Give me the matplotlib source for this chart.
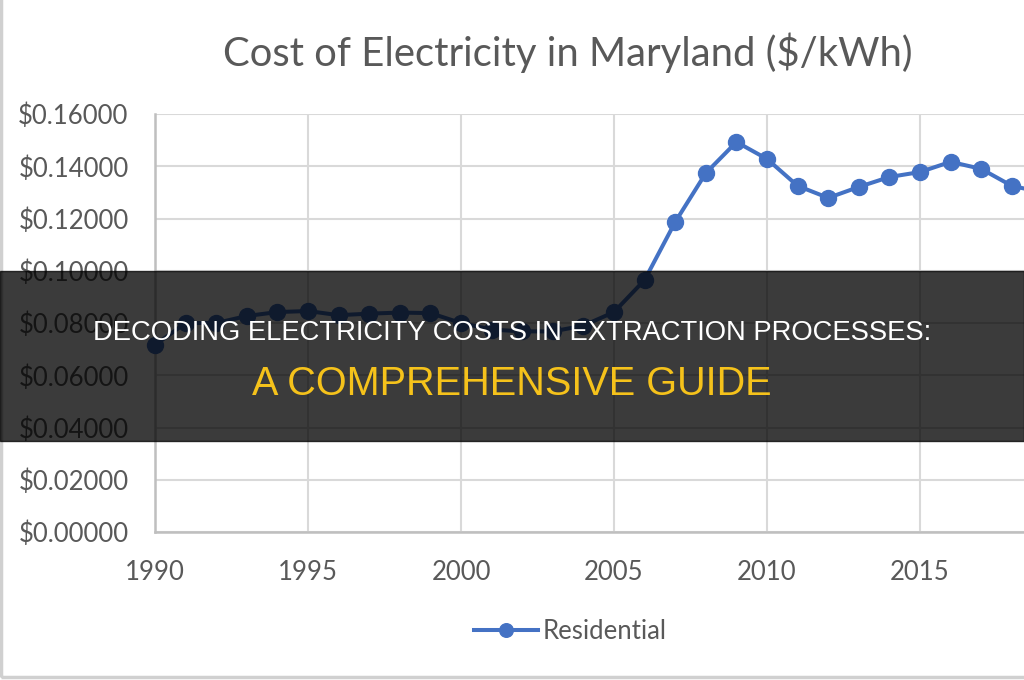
import matplotlib
matplotlib.use('Agg')
from matplotlib import pyplot as plt
from matplotlib.patches import Rectangle
from matplotlib.ticker import FuncFormatter, MultipleLocator

# residential electricity price, Maryland ($/kWh)
years = [1990, 1991, 1992, 1993, 1994, 1995, 1996, 1997, 1998, 1999,
         2000, 2001, 2002, 2003, 2004, 2005, 2006, 2007, 2008, 2009,
         2010, 2011, 2012, 2013, 2014, 2015, 2016, 2017, 2018, 2019]
residential = [0.0716, 0.0800, 0.0800, 0.0827, 0.0842, 0.0846, 0.0830, 0.0836, 0.0840, 0.0838,
               0.0800, 0.0775, 0.0768, 0.0768, 0.0790, 0.0842, 0.0965, 0.1187, 0.1374, 0.1493,
               0.1428, 0.1325, 0.1279, 0.1321, 0.1359, 0.1378, 0.1417, 0.1390, 0.1325, 0.1300]
year_ticks = [1990, 1995, 2000, 2005, 2010, 2015]

title = 'Cost of Electricity in Maryland ($/kWh)'
banner_line1 = 'DECODING ELECTRICITY COSTS IN EXTRACTION PROCESSES:'
banner_line2 = 'A COMPREHENSIVE GUIDE'

GREY_TEXT = '#595959'
GRID = '#d9d9d9'
BLUE = '#4472c4'
CHART_FONT = ['Lato', 'DejaVu Sans']

fig = plt.figure(figsize=(10.24, 6.8), dpi=100)
fig.patch.set_facecolor('white')

# plot area runs past the right edge, like the cropped screenshot
ax = fig.add_axes([0.1514, 0.2176, 0.8965, 0.6147])
ax.plot(years, residential, color=BLUE, lw=2.9, marker='o', ms=11.5,
        label='Residential', zorder=3, clip_on=False)

ax.set_xlim(1990, 2020)
ax.set_ylim(0, 0.16)
ax.set_xticks(year_ticks)
ax.yaxis.set_major_locator(MultipleLocator(0.02))
ax.yaxis.set_major_formatter(FuncFormatter(lambda v, _: f'${v:.5f}'))
ax.grid(True, color=GRID, lw=1.5)
ax.set_axisbelow(True)
for side in ('top', 'right'):
    ax.spines[side].set_visible(False)
for side in ('left', 'bottom'):
    ax.spines[side].set_color('#bfbfbf')
    ax.spines[side].set_linewidth(1.8)
ax.tick_params(length=0, labelsize=18.5, labelcolor=GREY_TEXT)
ax.tick_params(axis='y', pad=19)
ax.tick_params(axis='x', pad=20)
for lbl in ax.get_xticklabels() + ax.get_yticklabels():
    lbl.set_family(CHART_FONT)

fig.text(0.554, 0.923, title, ha='center', va='center', fontsize=28.8,
         color=GREY_TEXT, family=CHART_FONT)

leg = fig.legend(loc='center', bbox_to_anchor=(0.557, 0.071), frameon=False,
                 prop={'family': CHART_FONT, 'size': 18.5}, handlelength=2.5,
                 handletextpad=0.2, markerscale=0.85)
for t in leg.get_texts():
    t.set_color(GREY_TEXT)

# thin frame of the chart box
fig.patches.append(Rectangle((0.001, 0.004), 1.2, 1.2, transform=fig.transFigure,
                             fill=False, ec='#d0d0d0', lw=2.5))

# dark banner over the middle
fig.patches.append(Rectangle((0, 1 - 441 / 680), 1, 170 / 680, transform=fig.transFigure,
                             color='black', alpha=0.77, zorder=10))
fig.text(0.5, 1 - 333 / 680, banner_line1, ha='center', va='center', fontsize=19.7,
         color='white', family='Liberation Sans', zorder=11)
fig.text(0.5, 1 - 384 / 680, banner_line2, ha='center', va='center', fontsize=28.5,
         color='#f5c21b', family='Liberation Sans', zorder=11)

fig.savefig('out.png', dpi=100)
